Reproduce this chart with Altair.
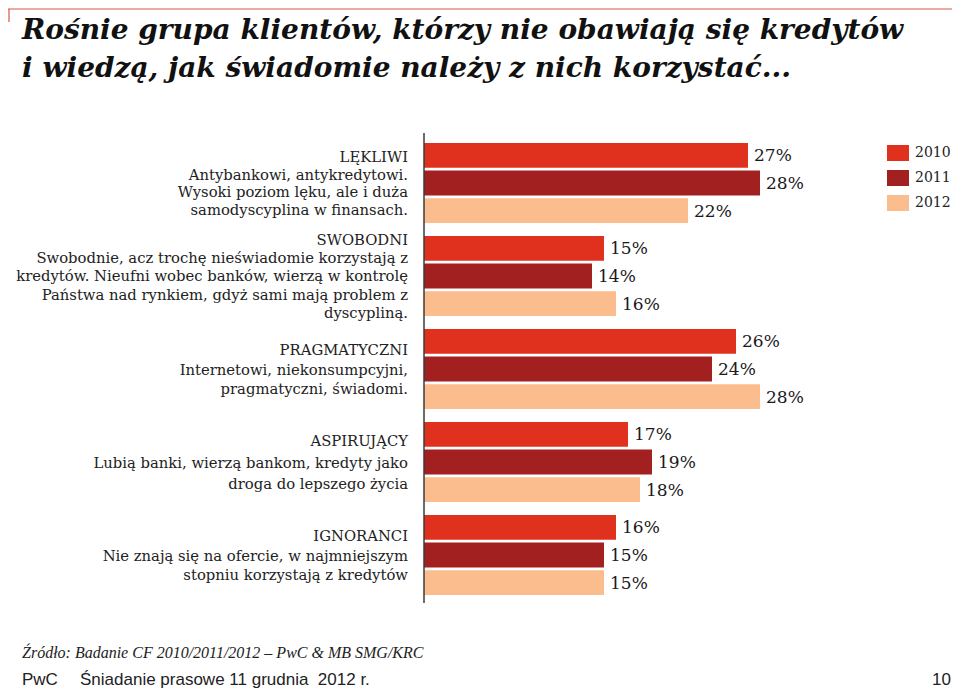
import altair as alt
import pandas as pd

# ---- data ----
categories = ["LĘKLIWI", "SWOBODNI", "PRAGMATYCZNI", "ASPIRUJĄCY", "IGNORANCI"]
years = ["2010", "2011", "2012"]
v2010 = [27, 15, 26, 17, 16]
v2011 = [28, 14, 24, 19, 15]
v2012 = [22, 16, 28, 18, 15]
descriptions = [
    ["LĘKLIWI", "Antybankowi, antykredytowi.", "Wysoki poziom lęku, ale i duża", "samodyscyplina w finansach."],
    ["SWOBODNI", "Swobodnie, acz trochę nieświadomie korzystają z",
     "kredytów. Nieufni wobec banków, wierzą w kontrolę",
     "Państwa nad rynkiem, gdyż sami mają problem z", "dyscypliną."],
    ["PRAGMATYCZNI", "Internetowi, niekonsumpcyjni,", "pragmatyczni, świadomi."],
    ["ASPIRUJĄCY", "Lubią banki, wierzą bankom, kredyty jako", "droga do lepszego życia"],
    ["IGNORANCI", "Nie znają się na ofercie, w najmniejszym", "stopniu korzystają z kredytów"],
]
colors = ["#e0301e", "#a32020", "#fcbd8e"]
title_lines = ["Rośnie grupa klientów, którzy nie obawiają się kredytów",
               "i wiedzą, jak świadomie należy z nich korzystać..."]
source_text = "Źródło: Badanie CF 2010/2011/2012 – PwC & MB SMG/KRC"
footer_left = "PwC"
footer_mid = "Śniadanie prasowe 11 grudnia\u00a0 2012 r."
footer_page = "10"

rows = []
for vals, yr in zip([v2010, v2011, v2012], years):
    for c, v in zip(categories, vals):
        rows.append({"category": c, "year": yr, "value": v, "label": f"{v}%"})
df = pd.DataFrame(rows)
desc_df = pd.DataFrame({"category": categories, "lines": descriptions})

SERIF = "DejaVu Serif"
SERIF2 = "Liberation Serif"
one = alt.Data(values=[{"a": 1}])

yscale = alt.Scale(domain=categories, range=[135, 587], paddingInner=0.14, paddingOuter=0)
xscale = alt.Scale(domain=[0, 40], range=[416, 896])

bars = alt.Chart(df).mark_bar().encode(
    x=alt.X("value:Q", scale=xscale, axis=None),
    y=alt.Y("category:N", scale=yscale, axis=None, sort=categories),
    yOffset=alt.YOffset("year:N", sort=years, scale=alt.Scale(paddingInner=0.1, paddingOuter=0)),
    color=alt.Color("year:N", scale=alt.Scale(domain=years, range=colors),
                    legend=alt.Legend(orient="none", legendX=879, legendY=134, title=None,
                                      symbolType="M-1,-0.727H1V0.727H-1Z", symbolSize=484,
                                      symbolStrokeWidth=0, labelFont=SERIF, labelFontSize=14,
                                      labelColor="#222", labelOffset=6, rowPadding=6, padding=0)),
)

pct = alt.Chart(df).mark_text(align="left", baseline="middle", dx=6, dy=1,
                              font=SERIF, fontSize=17, color="#1a1a1a").encode(
    x=alt.X("value:Q", scale=xscale, axis=None),
    y=alt.Y("category:N", scale=yscale, axis=None, sort=categories),
    yOffset=alt.YOffset("year:N", sort=years, scale=alt.Scale(paddingInner=0.1, paddingOuter=0)),
    text="label:N",
)

line_heights = {"LĘKLIWI": 17.8, "SWOBODNI": 18.3, "PRAGMATYCZNI": 19.5,
                "ASPIRUJĄCY": 21.5, "IGNORANCI": 19.5}
desc_layers = []
for c, lines in zip(categories, descriptions):
    lh = line_heights[c]
    desc_layers.append(
        alt.Chart(desc_df).transform_filter(alt.datum.category == c).mark_text(
            align="right", baseline="middle", font=SERIF, fontSize=14.8,
            lineHeight=lh, dy=-(len(lines) - 1) * lh / 2 + 1.5, color="#222").encode(
            x=alt.value(400),
            y=alt.Y("category:N", scale=yscale, axis=None, sort=categories),
            text="lines:N",
        )
    )

axis_rule = alt.Chart(one).mark_rule(color="#3a3a3a", strokeWidth=1.5).encode(
    x=alt.value(416), y=alt.value(125), y2=alt.value(595))

top_line = alt.Chart(one).mark_rule(color="#d9574a", strokeWidth=1.2).encode(
    x=alt.value(0), x2=alt.value(944), y=alt.value(1))
top_tick = alt.Chart(one).mark_rule(color="#d9574a", strokeWidth=1.2).encode(
    x=alt.value(1), y=alt.value(1), y2=alt.value(14))

title = alt.Chart(one).mark_text(text=title_lines, align="left", baseline="alphabetic",
                                 font=SERIF, fontSize=28, fontStyle="italic", fontWeight="bold",
                                 lineHeight=38, color="#111").encode(
    x=alt.value(14), y=alt.value(31))

source = alt.Chart(one).mark_text(text=source_text, align="left", baseline="middle",
                                  font=SERIF2, fontSize=16, fontStyle="italic", color="#222").encode(
    x=alt.value(14), y=alt.value(645))

FOOT = dict(font="Liberation Sans", fontSize=17, color="#222", baseline="alphabetic")
f1 = alt.Chart(one).mark_text(text=footer_left, align="left", **FOOT).encode(
    x=alt.value(14), y=alt.value(677))
f2 = alt.Chart(one).mark_text(text=footer_mid, align="left", **FOOT).encode(
    x=alt.value(72), y=alt.value(677))
f3 = alt.Chart(one).mark_text(text=footer_page, align="right", **FOOT).encode(
    x=alt.value(943), y=alt.value(677))

chart = alt.layer(bars, pct, *desc_layers, axis_rule, top_line, top_tick, title, source, f1, f2, f3).properties(
    width=944, height=684, autosize=alt.AutoSizeParams(type="none"), padding=0
).configure_view(stroke=None)

chart.save("out.html", embed_options={"renderer": "svg", "actions": False})
